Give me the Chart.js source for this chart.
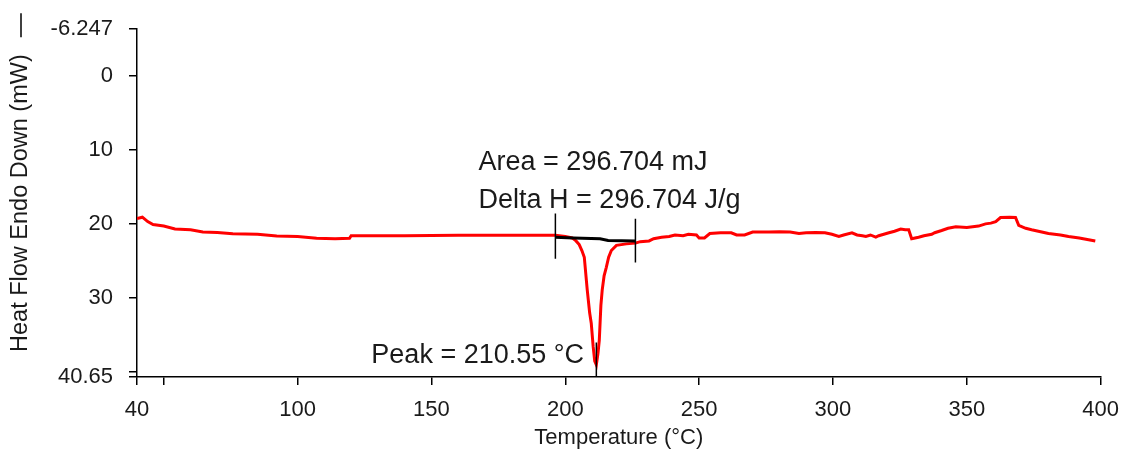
<!DOCTYPE html>
<html>
<head>
<meta charset="utf-8">
<script src="https://cdn.jsdelivr.net/npm/chart.js@4/dist/chart.umd.min.js"></script>
<style>
  html, body { margin: 0; padding: 0; background: #fff; }
</style>
</head>
<body>
<canvas id="dsc" width="1131" height="450"></canvas>
<script>
// DSC curve
var temperature = [40, 42, 44, 46, 50, 54.2, 60, 64.6, 70, 75.8, 85, 92.2, 100, 107.1, 114, 119.4, 120, 140, 160, 180,
  196.3, 200, 202.6, 204, 205.2, 206.2, 207.1, 208.2, 209.1, 209.7, 210.4, 211.0, 211.6, 212.2, 212.7, 213.3, 213.8,
  214.5, 215.3, 216.2, 217.2, 219.1, 222.8, 226.2, 228, 231.3, 233, 236, 238.8, 241, 244, 246, 249, 250, 252, 254,
  258, 262, 264, 267, 270, 276, 280, 284, 287.3, 290, 293.6, 297, 299.6, 302.2, 304, 307.1, 309, 311, 312.3, 314,
  316, 317.1, 319, 320.9, 323, 325.3, 327, 328.3, 329.4, 332, 334, 336.9, 338, 340.6, 343, 345.9, 350, 354.4, 357,
  359, 360.8, 362.6, 366, 368.2, 369.4, 372, 374.2, 378, 380.5, 385, 388, 392, 395, 398];
var heatFlow = [19.3, 19.1, 19.7, 20.1, 20.3, 20.7, 20.8, 21.1, 21.15, 21.35, 21.4, 21.65, 21.7, 21.95, 22.0, 21.95, 21.6, 21.6, 21.55, 21.55,
  21.55, 21.7, 21.9, 22.3, 22.8, 23.6, 24.5, 28.9, 32.0, 33.4, 36.5, 38.5, 39.0, 37.5, 35.7, 31, 28.9,
  27, 25.9, 24.5, 23.6, 22.9, 22.7, 22.6, 22.4, 22.3, 22.0, 21.8, 21.7, 21.5, 21.6, 21.4, 21.5, 21.9, 21.9, 21.3,
  21.2, 21.2, 21.5, 21.5, 21.1, 21.1, 21.05, 21.1, 21.3, 21.2, 21.15, 21.2, 21.4, 21.7, 21.5, 21.2, 21.5, 21.6, 21.7, 21.5,
  21.8, 21.6, 21.4, 21.2, 21.0, 20.7, 20.8, 20.8, 22.0, 21.8, 21.6, 21.4, 21.2, 20.9, 20.6, 20.4, 20.5, 20.3, 20.0,
  19.9, 19.7, 19.15, 19.1, 19.15, 20.2, 20.6, 20.8, 21.1, 21.3, 21.5, 21.7, 21.9, 22.1, 22.3];

// integration baseline and limit marks
var baselineT = [196.3, 203, 213, 216, 226.2];
var baselineHF = [21.8, 21.9, 22.0, 22.25, 22.3];
var startLimit = { t: 196.3, from: 18.6, to: 24.7 };
var endLimit = { t: 226.2, from: 19.3, to: 25.2 };
var peakT = 211.6;
var peakFrom = 36.0;

var xTicks = [40, 50, 100, 150, 200, 250, 300, 350, 400];
var yTicks = [-6.247, 0, 10, 20, 30, 40, 40.65];
var hiddenXTicks = [50];
var hiddenYTicks = [40];

var areaText = 'Area = 296.704 mJ';
var deltaText = 'Delta H = 296.704 J/g';
var peakText = 'Peak = 210.55 \u00B0C';

function pts(xs, ys) {
  return xs.map(function (x, i) { return { x: x, y: ys[i] }; });
}

var font = 'Liberation Sans, Arial, sans-serif';

var annotations = {
  id: 'annotations',
  afterDatasetsDraw: function (chart) {
    var ctx = chart.ctx, xs = chart.scales.x, ys = chart.scales.y;
    ctx.save();
    ctx.fillStyle = '#1a1a1a';
    ctx.font = '27px ' + font;
    ctx.textBaseline = 'alphabetic';
    ctx.textAlign = 'left';
    ctx.fillText(areaText, xs.getPixelForValue(167.6), ys.getPixelForValue(12.8));
    ctx.fillText(deltaText, xs.getPixelForValue(167.6), ys.getPixelForValue(17.8));
    ctx.textAlign = 'right';
    ctx.fillText(peakText, xs.getPixelForValue(207), ys.getPixelForValue(38.7));
    // small legend dash above the y title
    var ca = chart.chartArea;
    ctx.strokeStyle = '#000';
    ctx.lineWidth = 1.5;
    ctx.beginPath();
    ctx.moveTo(21, ca.top - 16);
    ctx.lineTo(21, ca.top + 8);
    ctx.stroke();
    ctx.restore();
  }
};

function vline(t, a, b, w) {
  return {
    data: [{ x: t, y: a }, { x: t, y: b }],
    borderColor: '#000', borderWidth: w, pointRadius: 0, order: 0
  };
}

new Chart(document.getElementById('dsc'), {
  type: 'line',
  data: {
    datasets: [
      { data: pts(baselineT, baselineHF), borderColor: '#000', borderWidth: 3, pointRadius: 0, order: 1 },
      vline(startLimit.t, startLimit.from, startLimit.to, 1.5),
      vline(endLimit.t, endLimit.from, endLimit.to, 1.5),
      vline(peakT, peakFrom, 40.65, 1.5),
      { data: pts(temperature, heatFlow), borderColor: '#ff0000', borderWidth: 3, pointRadius: 0, order: 2 }
    ]
  },
  options: {
    responsive: false,
    animation: false,
    devicePixelRatio: 1,
    layout: { padding: { left: 0, top: 29, right: 25, bottom: 0 } },
    plugins: { legend: { display: false }, tooltip: { enabled: false } },
    scales: {
      x: {
        type: 'linear', min: 40, max: 400,
        afterBuildTicks: function (axis) { axis.ticks = xTicks.map(function (v) { return { value: v }; }); },
        afterFit: function (scale) { scale.height = 73; },
        ticks: {
          autoSkip: false, maxRotation: 0, padding: 12, color: '#1a1a1a',
          font: { family: font, size: 22 },
          callback: function (v) { return hiddenXTicks.indexOf(v) >= 0 ? '' : String(v); }
        },
        grid: { drawOnChartArea: false, drawTicks: true, tickLength: 8, color: '#000', lineWidth: 1.5 },
        border: { display: true, color: '#000', width: 1.5 },
        title: {
          display: true, text: 'Temperature (\u00B0C)', color: '#1a1a1a',
          font: { family: font, size: 22, lineHeight: 1.1 }, padding: { top: 0, bottom: 0 }
        }
      },
      y: {
        type: 'linear', min: -6.247, max: 40.65, reverse: true,
        afterBuildTicks: function (axis) { axis.ticks = yTicks.map(function (v) { return { value: v }; }); },
        afterFit: function (scale) { scale.width = 137; },
        ticks: {
          autoSkip: false, padding: 16, color: '#1a1a1a',
          font: { family: font, size: 22 },
          callback: function (v) { return hiddenYTicks.indexOf(v) >= 0 ? '' : String(v); }
        },
        grid: { drawOnChartArea: false, drawTicks: true, tickLength: 8, color: '#000', lineWidth: 1.5 },
        border: { display: true, color: '#000', width: 1.5 },
        title: {
          display: true, text: 'Heat Flow Endo Down (mW)', color: '#1a1a1a',
          font: { family: font, size: 23.5, lineHeight: 1.1 }, padding: { top: 8, bottom: 0 }
        }
      }
    }
  },
  plugins: [annotations]
});
</script>
</body>
</html>
